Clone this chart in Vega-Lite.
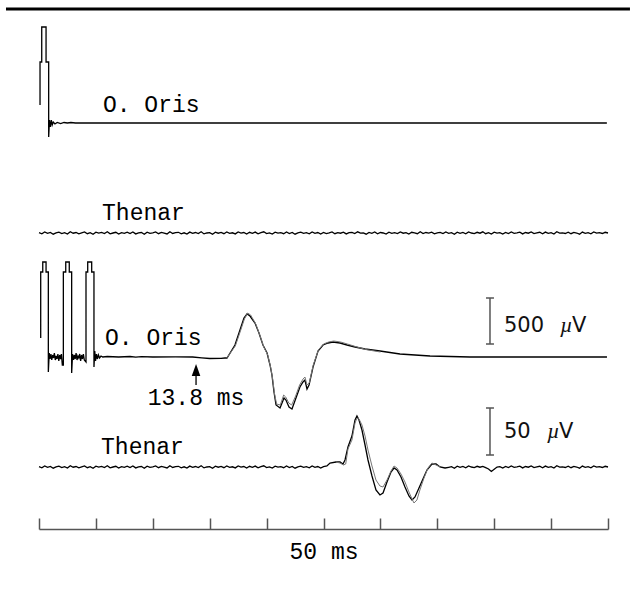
{
"$schema": "https://vega.github.io/schema/vega-lite/v6.json",
"width": 636, "height": 596, "padding": 0, "autosize": {"type": "none"},
"background": "white",
"config": {"view": {"stroke": null}},
"encoding": {
 "x": {"field": "t", "type": "quantitative", "scale": {"domain": [0, 50], "range": [39, 608], "nice": false, "zero": false},
  "axis": {"values": [0,5,10,15,20,25,30,35,40,45,50], "orient": "bottom", "offset": -67, "labels": false, "grid": false, "tickSize": -11, "tickColor": "#555", "tickWidth": 1.5, "domainColor": "#555", "domainWidth": 1.5, "title": "50 ms", "titleFont": "Liberation Mono", "titleFontSize": 23, "titleFontWeight": "normal", "titleColor": "#000", "titleY": 29, "titleBaseline": "alphabetic"}},
 "y": {"field": "y", "type": "quantitative", "scale": {"domain": [0, 596], "nice": false, "zero": false}, "axis": null}
},
"layer": [
 {"data": {"values": [{"t": -2.9, "t2": 51.93, "y": 587, "y2": 587}]},
  "mark": {"type": "rule", "color": "#000", "strokeWidth": 3},
  "encoding": {"x2": {"field": "t2"}, "y2": {"field": "y2"}}},
 {"data": {"values": [
  {"s":"oo1","t":0.09,"y":491},{"s":"oo1","t":0.09,"y":534},{"s":"oo1","t":0.24,"y":534},{"s":"oo1","t":0.24,"y":569},{"s":"oo1","t":0.62,"y":569},{"s":"oo1","t":0.62,"y":534},{"s":"oo1","t":0.85,"y":534},{"s":"oo1","t":0.85,"y":459},{"s":"oo1","t":0.92,"y":476},{"s":"oo1","t":1.0,"y":469},{"s":"oo1","t":1.08,"y":476},{"s":"oo1","t":1.16,"y":471},{"s":"oo1","t":1.25,"y":474},{"s":"oo1","t":1.4,"y":472},{"s":"oo1","t":1.6,"y":473.5},{"s":"oo1","t":1.9,"y":472.5},{"s":"oo1","t":2.2,"y":473.5},{"s":"oo1","t":2.5,"y":473},{"s":"oo1","t":2.8,"y":473.5},{"s":"oo1","t":3.2,"y":473},{"s":"oo1","t":49.9,"y":473},

  {"s":"th1","t":0,"y":363.3},{"s":"th1","t":0.25,"y":362.2},{"s":"th1","t":0.5,"y":364.1},{"s":"th1","t":0.75,"y":362.6},{"s":"th1","t":1,"y":363.6},{"s":"th1","t":1.25,"y":361.8},{"s":"th1","t":1.5,"y":363.2},{"s":"th1","t":1.75,"y":363.9},{"s":"th1","t":2,"y":362.4},{"s":"th1","t":2.25,"y":363.4},{"s":"th1","t":2.5,"y":362},{"s":"th1","t":2.75,"y":364.3},{"s":"th1","t":3,"y":362.8},{"s":"th1","t":3.25,"y":363.5},{"s":"th1","t":3.5,"y":362.1},{"s":"th1","t":3.75,"y":363.1},{"s":"th1","t":4,"y":364},{"s":"th1","t":4.25,"y":362.3},{"s":"th1","t":4.5,"y":363.3},{"s":"th1","t":4.75,"y":361.7},{"s":"th1","t":5,"y":363.8},{"s":"th1","t":5.25,"y":362.9},{"s":"th1","t":5.5,"y":363.6},{"s":"th1","t":5.75,"y":362.5},{"s":"th1","t":6,"y":364.2},{"s":"th1","t":6.25,"y":362.2},{"s":"th1","t":6.5,"y":363},{"s":"th1","t":6.75,"y":363.7},{"s":"th1","t":7,"y":361.9},{"s":"th1","t":7.25,"y":363.4},{"s":"th1","t":7.5,"y":362.7},{"s":"th1","t":7.75,"y":363.9},{"s":"th1","t":8,"y":362.4},{"s":"th1","t":8.25,"y":364.1},{"s":"th1","t":8.5,"y":362.1},{"s":"th1","t":8.75,"y":363.2},{"s":"th1","t":9,"y":363.5},{"s":"th1","t":9.25,"y":361.8},{"s":"th1","t":9.5,"y":363.8},{"s":"th1","t":9.75,"y":362.6},{"s":"th1","t":10,"y":363.1},{"s":"th1","t":10.25,"y":364},{"s":"th1","t":10.5,"y":362.3},{"s":"th1","t":10.75,"y":363.6},{"s":"th1","t":11,"y":362.8},{"s":"th1","t":11.25,"y":362},{"s":"th1","t":11.5,"y":364.3},{"s":"th1","t":11.75,"y":362.5},{"s":"th1","t":12,"y":363.3},{"s":"th1","t":12.25,"y":363.7},{"s":"th1","t":12.5,"y":362.2},{"s":"th1","t":12.75,"y":363.2},{"s":"th1","t":13,"y":361.9},{"s":"th1","t":13.25,"y":363.9},{"s":"th1","t":13.5,"y":362.7},{"s":"th1","t":13.75,"y":363.5},{"s":"th1","t":14,"y":362.4},{"s":"th1","t":14.25,"y":364.2},{"s":"th1","t":14.5,"y":362.1},{"s":"th1","t":14.75,"y":363},{"s":"th1","t":15,"y":363.4},{"s":"th1","t":15.25,"y":361.7},{"s":"th1","t":15.5,"y":363.8},{"s":"th1","t":15.75,"y":362.8},{"s":"th1","t":16,"y":363.6},{"s":"th1","t":16.25,"y":362.3},{"s":"th1","t":16.5,"y":364},{"s":"th1","t":16.75,"y":362.6},{"s":"th1","t":17,"y":363.2},{"s":"th1","t":17.25,"y":362.1},{"s":"th1","t":17.5,"y":364.1},{"s":"th1","t":17.75,"y":362.9},{"s":"th1","t":18,"y":363.5},{"s":"th1","t":18.25,"y":362},{"s":"th1","t":18.5,"y":363.7},{"s":"th1","t":18.75,"y":362.7},{"s":"th1","t":19,"y":363.9},{"s":"th1","t":19.25,"y":362.2},{"s":"th1","t":19.5,"y":363.3},{"s":"th1","t":19.75,"y":364.2},{"s":"th1","t":20,"y":362.4},{"s":"th1","t":20.25,"y":363.1},{"s":"th1","t":20.5,"y":361.9},{"s":"th1","t":20.75,"y":363.8},{"s":"th1","t":21,"y":362.8},{"s":"th1","t":21.25,"y":363.4},{"s":"th1","t":21.5,"y":362.3},{"s":"th1","t":21.75,"y":364},{"s":"th1","t":22,"y":362.5},{"s":"th1","t":22.25,"y":363.6},{"s":"th1","t":22.5,"y":361.8},{"s":"th1","t":22.75,"y":363.2},{"s":"th1","t":23,"y":363.9},{"s":"th1","t":23.25,"y":362.6},{"s":"th1","t":23.5,"y":363.3},{"s":"th1","t":23.75,"y":362.2},{"s":"th1","t":24,"y":364.1},{"s":"th1","t":24.25,"y":362.7},{"s":"th1","t":24.5,"y":363.5},{"s":"th1","t":24.75,"y":362},{"s":"th1","t":25,"y":363.6},{"s":"th1","t":25.25,"y":362.4},{"s":"th1","t":25.5,"y":363.1},{"s":"th1","t":25.75,"y":364},{"s":"th1","t":26,"y":362.3},{"s":"th1","t":26.25,"y":363.4},{"s":"th1","t":26.5,"y":362.8},{"s":"th1","t":26.75,"y":363.9},{"s":"th1","t":27,"y":362.1},{"s":"th1","t":27.25,"y":363.3},{"s":"th1","t":27.5,"y":363.7},{"s":"th1","t":27.75,"y":362.5},{"s":"th1","t":28,"y":364.2},{"s":"th1","t":28.25,"y":362.9},{"s":"th1","t":28.5,"y":363.2},{"s":"th1","t":28.75,"y":361.8},{"s":"th1","t":29,"y":363.6},{"s":"th1","t":29.25,"y":362.7},{"s":"th1","t":29.5,"y":364},{"s":"th1","t":29.75,"y":362.2},{"s":"th1","t":30,"y":363.5},{"s":"th1","t":30.25,"y":363},{"s":"th1","t":30.5,"y":361.9},{"s":"th1","t":30.75,"y":363.8},{"s":"th1","t":31,"y":362.6},{"s":"th1","t":31.25,"y":363.3},{"s":"th1","t":31.5,"y":362.4},{"s":"th1","t":31.75,"y":364.1},{"s":"th1","t":32,"y":362.8},{"s":"th1","t":32.25,"y":363.4},{"s":"th1","t":32.5,"y":362},{"s":"th1","t":32.75,"y":363.7},{"s":"th1","t":33,"y":363.1},{"s":"th1","t":33.25,"y":362.3},{"s":"th1","t":33.5,"y":364.3},{"s":"th1","t":33.75,"y":362.5},{"s":"th1","t":34,"y":363.5},{"s":"th1","t":34.25,"y":362.9},{"s":"th1","t":34.5,"y":363.9},{"s":"th1","t":34.75,"y":362.1},{"s":"th1","t":35,"y":363.2},{"s":"th1","t":35.25,"y":363.6},{"s":"th1","t":35.5,"y":362.4},{"s":"th1","t":35.75,"y":364},{"s":"th1","t":36,"y":362.7},{"s":"th1","t":36.25,"y":363.3},{"s":"th1","t":36.5,"y":361.8},{"s":"th1","t":36.75,"y":363.8},{"s":"th1","t":37,"y":362.6},{"s":"th1","t":37.25,"y":363.5},{"s":"th1","t":37.5,"y":362.2},{"s":"th1","t":37.75,"y":364.1},{"s":"th1","t":38,"y":363},{"s":"th1","t":38.25,"y":362.4},{"s":"th1","t":38.5,"y":363.7},{"s":"th1","t":38.75,"y":362.8},{"s":"th1","t":39,"y":364.2},{"s":"th1","t":39.25,"y":362.3},{"s":"th1","t":39.5,"y":363.4},{"s":"th1","t":39.75,"y":362},{"s":"th1","t":40,"y":363.9},{"s":"th1","t":40.25,"y":362.9},{"s":"th1","t":40.5,"y":363.3},{"s":"th1","t":40.75,"y":361.9},{"s":"th1","t":41,"y":363.6},{"s":"th1","t":41.25,"y":362.5},{"s":"th1","t":41.5,"y":364},{"s":"th1","t":41.75,"y":362.7},{"s":"th1","t":42,"y":363.2},{"s":"th1","t":42.25,"y":363.8},{"s":"th1","t":42.5,"y":362.1},{"s":"th1","t":42.75,"y":363.5},{"s":"th1","t":43,"y":362.8},{"s":"th1","t":43.25,"y":364.1},{"s":"th1","t":43.5,"y":362.4},{"s":"th1","t":43.75,"y":363.1},{"s":"th1","t":44,"y":363.7},{"s":"th1","t":44.25,"y":362.2},{"s":"th1","t":44.5,"y":363.9},{"s":"th1","t":44.75,"y":362.6},{"s":"th1","t":45,"y":363.4},{"s":"th1","t":45.25,"y":362},{"s":"th1","t":45.5,"y":364.3},{"s":"th1","t":45.75,"y":362.9},{"s":"th1","t":46,"y":363.2},{"s":"th1","t":46.25,"y":362.5},{"s":"th1","t":46.5,"y":363.8},{"s":"th1","t":46.75,"y":362.3},{"s":"th1","t":47,"y":363.6},{"s":"th1","t":47.25,"y":363},{"s":"th1","t":47.5,"y":361.8},{"s":"th1","t":47.75,"y":363.9},{"s":"th1","t":48,"y":362.7},{"s":"th1","t":48.25,"y":363.4},{"s":"th1","t":48.5,"y":362.2},{"s":"th1","t":48.75,"y":364},{"s":"th1","t":49,"y":362.8},{"s":"th1","t":49.25,"y":363.3},{"s":"th1","t":49.5,"y":362.5},{"s":"th1","t":49.75,"y":363.7},{"s":"th1","t":50,"y":363},

  {"s":"oo2","t":0.15,"y":258},{"s":"oo2","t":0.15,"y":324},{"s":"oo2","t":0.33,"y":324},{"s":"oo2","t":0.33,"y":334},{"s":"oo2","t":0.62,"y":334},{"s":"oo2","t":0.62,"y":324},{"s":"oo2","t":0.82,"y":324},{"s":"oo2","t":0.82,"y":224},{"s":"oo2","t":0.9,"y":243},{"s":"oo2","t":0.97,"y":237},{"s":"oo2","t":1.05,"y":242},{"s":"oo2","t":1.12,"y":236},{"s":"oo2","t":1.2,"y":241},{"s":"oo2","t":1.28,"y":238},{"s":"oo2","t":1.35,"y":243},{"s":"oo2","t":1.43,"y":236},{"s":"oo2","t":1.5,"y":240},{"s":"oo2","t":1.58,"y":237},{"s":"oo2","t":1.66,"y":242},{"s":"oo2","t":1.74,"y":235},{"s":"oo2","t":1.82,"y":241},{"s":"oo2","t":1.9,"y":237},{"s":"oo2","t":1.97,"y":242},{"s":"oo2","t":2.05,"y":231},{"s":"oo2","t":2.14,"y":231},{"s":"oo2","t":2.14,"y":324},{"s":"oo2","t":2.35,"y":324},{"s":"oo2","t":2.35,"y":334},{"s":"oo2","t":2.66,"y":334},{"s":"oo2","t":2.66,"y":324},{"s":"oo2","t":2.87,"y":324},{"s":"oo2","t":2.87,"y":223},{"s":"oo2","t":2.95,"y":242},{"s":"oo2","t":3.03,"y":236},{"s":"oo2","t":3.1,"y":241},{"s":"oo2","t":3.18,"y":237},{"s":"oo2","t":3.26,"y":243},{"s":"oo2","t":3.34,"y":236},{"s":"oo2","t":3.42,"y":240},{"s":"oo2","t":3.5,"y":238},{"s":"oo2","t":3.58,"y":242},{"s":"oo2","t":3.66,"y":235},{"s":"oo2","t":3.74,"y":241},{"s":"oo2","t":3.82,"y":237},{"s":"oo2","t":3.9,"y":242},{"s":"oo2","t":3.98,"y":236},{"s":"oo2","t":4.13,"y":234},{"s":"oo2","t":4.13,"y":324},{"s":"oo2","t":4.28,"y":324},{"s":"oo2","t":4.28,"y":334},{"s":"oo2","t":4.63,"y":334},{"s":"oo2","t":4.63,"y":324},{"s":"oo2","t":4.83,"y":324},{"s":"oo2","t":4.83,"y":229},{"s":"oo2","t":4.9,"y":245},{"s":"oo2","t":4.97,"y":235},{"s":"oo2","t":5.05,"y":242},{"s":"oo2","t":5.13,"y":237},{"s":"oo2","t":5.22,"y":241},{"s":"oo2","t":5.32,"y":238},{"s":"oo2","t":5.45,"y":240},{"s":"oo2","t":5.6,"y":239},{"s":"oo2","t":6,"y":239.5},{"s":"oo2","t":7,"y":239},{"s":"oo2","t":8,"y":239.5},{"s":"oo2","t":8.5,"y":238.8},{"s":"oo2","t":9,"y":239.3},{"s":"oo2","t":10,"y":239},{"s":"oo2","t":12,"y":239.2},{"s":"oo2","t":13.5,"y":239},{"s":"oo2","t":14.3,"y":238.2},{"s":"oo2","t":15,"y":237.5},{"s":"oo2","t":16,"y":237.6},{"s":"oo2","t":16.34,"y":238},{"s":"oo2","t":16.52,"y":238},{"s":"oo2","t":17.22,"y":251},{"s":"oo2","t":17.66,"y":266},{"s":"oo2","t":18.01,"y":278},{"s":"oo2","t":18.28,"y":282},{"s":"oo2","t":18.54,"y":280},{"s":"oo2","t":18.98,"y":273},{"s":"oo2","t":19.33,"y":263},{"s":"oo2","t":19.68,"y":251},{"s":"oo2","t":20.04,"y":243},{"s":"oo2","t":20.3,"y":231},{"s":"oo2","t":20.47,"y":221},{"s":"oo2","t":20.65,"y":204},{"s":"oo2","t":20.83,"y":191},{"s":"oo2","t":21.18,"y":188},{"s":"oo2","t":21.53,"y":198},{"s":"oo2","t":21.7,"y":196},{"s":"oo2","t":21.97,"y":189},{"s":"oo2","t":22.23,"y":187},{"s":"oo2","t":22.58,"y":198},{"s":"oo2","t":22.93,"y":209},{"s":"oo2","t":23.2,"y":214},{"s":"oo2","t":23.37,"y":216},{"s":"oo2","t":23.55,"y":207},{"s":"oo2","t":23.73,"y":211},{"s":"oo2","t":24.08,"y":229},{"s":"oo2","t":24.52,"y":245},{"s":"oo2","t":24.96,"y":251},{"s":"oo2","t":25.4,"y":253},{"s":"oo2","t":25.83,"y":254},{"s":"oo2","t":26.45,"y":253},{"s":"oo2","t":27.07,"y":251},{"s":"oo2","t":27.77,"y":249},{"s":"oo2","t":28.65,"y":247},{"s":"oo2","t":29.96,"y":245},{"s":"oo2","t":31.72,"y":242},{"s":"oo2","t":34.36,"y":240},{"s":"oo2","t":37.87,"y":239},{"s":"oo2","t":49.91,"y":239},

  {"s":"th2","t":0,"y":129.3},{"s":"th2","t":0.25,"y":128.2},{"s":"th2","t":0.5,"y":130.1},{"s":"th2","t":0.75,"y":128.6},{"s":"th2","t":1,"y":129.6},{"s":"th2","t":1.25,"y":127.8},{"s":"th2","t":1.5,"y":129.2},{"s":"th2","t":1.75,"y":129.9},{"s":"th2","t":2,"y":128.4},{"s":"th2","t":2.25,"y":129.4},{"s":"th2","t":2.5,"y":128},{"s":"th2","t":2.75,"y":130.3},{"s":"th2","t":3,"y":128.8},{"s":"th2","t":3.25,"y":129.5},{"s":"th2","t":3.5,"y":128.1},{"s":"th2","t":3.75,"y":129.1},{"s":"th2","t":4,"y":130},{"s":"th2","t":4.25,"y":128.3},{"s":"th2","t":4.5,"y":129.3},{"s":"th2","t":4.75,"y":127.7},{"s":"th2","t":5,"y":129.8},{"s":"th2","t":5.25,"y":128.9},{"s":"th2","t":5.5,"y":129.6},{"s":"th2","t":5.75,"y":128.5},{"s":"th2","t":6,"y":130.2},{"s":"th2","t":6.25,"y":128.2},{"s":"th2","t":6.5,"y":129},{"s":"th2","t":6.75,"y":129.7},{"s":"th2","t":7,"y":127.9},{"s":"th2","t":7.25,"y":129.4},{"s":"th2","t":7.5,"y":128.7},{"s":"th2","t":7.75,"y":129.9},{"s":"th2","t":8,"y":128.4},{"s":"th2","t":8.25,"y":130.1},{"s":"th2","t":8.5,"y":128.1},{"s":"th2","t":8.75,"y":129.2},{"s":"th2","t":9,"y":129.5},{"s":"th2","t":9.25,"y":127.8},{"s":"th2","t":9.5,"y":129.8},{"s":"th2","t":9.75,"y":128.6},{"s":"th2","t":10,"y":129.1},{"s":"th2","t":10.25,"y":130},{"s":"th2","t":10.5,"y":128.3},{"s":"th2","t":10.75,"y":129.6},{"s":"th2","t":11,"y":128.8},{"s":"th2","t":11.25,"y":128},{"s":"th2","t":11.5,"y":130.3},{"s":"th2","t":11.75,"y":128.5},{"s":"th2","t":12,"y":129.3},{"s":"th2","t":12.25,"y":129.7},{"s":"th2","t":12.5,"y":128.2},{"s":"th2","t":12.75,"y":129.2},{"s":"th2","t":13,"y":127.9},{"s":"th2","t":13.25,"y":129.9},{"s":"th2","t":13.5,"y":128.7},{"s":"th2","t":13.75,"y":129.5},{"s":"th2","t":14,"y":128.4},{"s":"th2","t":14.25,"y":130.2},{"s":"th2","t":14.5,"y":128.1},{"s":"th2","t":14.75,"y":129},{"s":"th2","t":15,"y":129.4},{"s":"th2","t":15.25,"y":127.7},{"s":"th2","t":15.5,"y":129.8},{"s":"th2","t":15.75,"y":128.8},{"s":"th2","t":16,"y":129.6},{"s":"th2","t":16.25,"y":128.3},{"s":"th2","t":16.5,"y":130},{"s":"th2","t":16.75,"y":128.6},{"s":"th2","t":17,"y":129.2},{"s":"th2","t":17.25,"y":128.1},{"s":"th2","t":17.5,"y":130.1},{"s":"th2","t":17.75,"y":128.9},{"s":"th2","t":18,"y":129.5},{"s":"th2","t":18.25,"y":128},{"s":"th2","t":18.5,"y":129.7},{"s":"th2","t":18.75,"y":128.7},{"s":"th2","t":19,"y":129.9},{"s":"th2","t":19.25,"y":128.2},{"s":"th2","t":19.5,"y":129.3},{"s":"th2","t":19.75,"y":130.2},{"s":"th2","t":20,"y":128.4},{"s":"th2","t":20.25,"y":129.1},{"s":"th2","t":20.5,"y":127.9},{"s":"th2","t":20.75,"y":129.8},{"s":"th2","t":21,"y":128.8},{"s":"th2","t":21.25,"y":129.4},{"s":"th2","t":21.5,"y":128.3},{"s":"th2","t":21.75,"y":130},{"s":"th2","t":22,"y":128.5},{"s":"th2","t":22.25,"y":129.6},{"s":"th2","t":22.5,"y":127.8},{"s":"th2","t":22.75,"y":129.2},{"s":"th2","t":23,"y":129.9},{"s":"th2","t":23.25,"y":128.6},{"s":"th2","t":23.5,"y":129.3},{"s":"th2","t":23.75,"y":128.2},{"s":"th2","t":24,"y":130.1},{"s":"th2","t":24.25,"y":128.7},{"s":"th2","t":24.5,"y":129.5},{"s":"th2","t":24.75,"y":128},{"s":"th2","t":25,"y":129.4},{"s":"th2","t":25.3,"y":130},{"s":"th2","t":25.57,"y":133},{"s":"th2","t":26.1,"y":134},{"s":"th2","t":26.45,"y":134},{"s":"th2","t":26.71,"y":132},{"s":"th2","t":26.89,"y":136},{"s":"th2","t":27.15,"y":149},{"s":"th2","t":27.5,"y":160},{"s":"th2","t":27.77,"y":176},{"s":"th2","t":27.94,"y":180},{"s":"th2","t":28.12,"y":176},{"s":"th2","t":28.38,"y":166},{"s":"th2","t":28.65,"y":151},{"s":"th2","t":28.91,"y":136},{"s":"th2","t":29.26,"y":120},{"s":"th2","t":29.61,"y":106},{"s":"th2","t":29.96,"y":101},{"s":"th2","t":30.23,"y":103},{"s":"th2","t":30.58,"y":114},{"s":"th2","t":30.93,"y":124},{"s":"th2","t":31.2,"y":128},{"s":"th2","t":31.46,"y":126},{"s":"th2","t":31.81,"y":119},{"s":"th2","t":32.16,"y":109},{"s":"th2","t":32.51,"y":100},{"s":"th2","t":32.78,"y":96},{"s":"th2","t":33.04,"y":99},{"s":"th2","t":33.39,"y":108},{"s":"th2","t":33.74,"y":117},{"s":"th2","t":34.09,"y":126},{"s":"th2","t":34.53,"y":132},{"s":"th2","t":34.89,"y":132},{"s":"th2","t":35.24,"y":129},{"s":"th2","t":35.68,"y":128},{"s":"th2","t":36,"y":128.7},{"s":"th2","t":36.25,"y":129.3},{"s":"th2","t":36.5,"y":127.8},{"s":"th2","t":36.75,"y":129.8},{"s":"th2","t":37,"y":128.6},{"s":"th2","t":37.25,"y":129.5},{"s":"th2","t":37.5,"y":128.2},{"s":"th2","t":37.75,"y":130.1},{"s":"th2","t":38,"y":129},{"s":"th2","t":38.25,"y":128.4},{"s":"th2","t":38.5,"y":129.7},{"s":"th2","t":38.75,"y":128.8},{"s":"th2","t":39,"y":129.6},{"s":"th2","t":39.25,"y":128.3},{"s":"th2","t":39.5,"y":127},{"s":"th2","t":39.75,"y":124.5},{"s":"th2","t":40,"y":126.8},{"s":"th2","t":40.25,"y":128.9},{"s":"th2","t":40.5,"y":129.3},{"s":"th2","t":40.75,"y":127.9},{"s":"th2","t":41,"y":129.6},{"s":"th2","t":41.25,"y":128.5},{"s":"th2","t":41.5,"y":130},{"s":"th2","t":41.75,"y":128.7},{"s":"th2","t":42,"y":129.2},{"s":"th2","t":42.25,"y":129.8},{"s":"th2","t":42.5,"y":128.1},{"s":"th2","t":42.75,"y":129.5},{"s":"th2","t":43,"y":128.8},{"s":"th2","t":43.25,"y":130.1},{"s":"th2","t":43.5,"y":128.4},{"s":"th2","t":43.75,"y":129.1},{"s":"th2","t":44,"y":129.7},{"s":"th2","t":44.25,"y":128.2},{"s":"th2","t":44.5,"y":129.9},{"s":"th2","t":44.75,"y":128.6},{"s":"th2","t":45,"y":129.4},{"s":"th2","t":45.25,"y":128},{"s":"th2","t":45.5,"y":130.3},{"s":"th2","t":45.75,"y":128.9},{"s":"th2","t":46,"y":129.2},{"s":"th2","t":46.25,"y":128.5},{"s":"th2","t":46.5,"y":129.8},{"s":"th2","t":46.75,"y":128.3},{"s":"th2","t":47,"y":129.6},{"s":"th2","t":47.25,"y":129},{"s":"th2","t":47.5,"y":127.8},{"s":"th2","t":47.75,"y":129.9},{"s":"th2","t":48,"y":128.7},{"s":"th2","t":48.25,"y":129.4},{"s":"th2","t":48.5,"y":128.2},{"s":"th2","t":48.75,"y":130},{"s":"th2","t":49,"y":128.8},{"s":"th2","t":49.25,"y":129.3},{"s":"th2","t":49.5,"y":128.5},{"s":"th2","t":49.75,"y":129.7},{"s":"th2","t":50,"y":129}
  ]},
  "mark": {"type": "line", "color": "#000", "strokeWidth": 1.3, "interpolate": "linear"},
  "encoding": {"detail": {"field": "s"}, "order": {"value": null}}},
 {"data": {"values": [
  {"s":"oo2g","t":16.5,"y":238},{"s":"oo2g","t":17.25,"y":250},{"s":"oo2g","t":17.7,"y":265},{"s":"oo2g","t":18.05,"y":277},{"s":"oo2g","t":18.33,"y":283},{"s":"oo2g","t":18.6,"y":281},{"s":"oo2g","t":19.05,"y":272},{"s":"oo2g","t":19.4,"y":261},{"s":"oo2g","t":19.75,"y":249},{"s":"oo2g","t":20.1,"y":241},{"s":"oo2g","t":20.35,"y":229},{"s":"oo2g","t":20.52,"y":218},{"s":"oo2g","t":20.7,"y":202},{"s":"oo2g","t":20.88,"y":192},{"s":"oo2g","t":21.2,"y":191},{"s":"oo2g","t":21.5,"y":201},{"s":"oo2g","t":21.68,"y":199},{"s":"oo2g","t":21.95,"y":193},{"s":"oo2g","t":22.2,"y":191},{"s":"oo2g","t":22.55,"y":200},{"s":"oo2g","t":22.9,"y":211},{"s":"oo2g","t":23.2,"y":217},{"s":"oo2g","t":23.37,"y":219},{"s":"oo2g","t":23.55,"y":211},{"s":"oo2g","t":23.75,"y":213},{"s":"oo2g","t":24.1,"y":231},{"s":"oo2g","t":24.55,"y":246},{"s":"oo2g","t":25,"y":252},{"s":"oo2g","t":25.45,"y":254},{"s":"oo2g","t":25.9,"y":255},{"s":"oo2g","t":26.5,"y":254},{"s":"oo2g","t":27.1,"y":252},{"s":"oo2g","t":27.8,"y":249.5},{"s":"oo2g","t":28.7,"y":246.5},{"s":"oo2g","t":30,"y":244},
  {"s":"th2g","t":26.1,"y":134},{"s":"th2g","t":26.45,"y":133},{"s":"th2g","t":26.75,"y":131},{"s":"th2g","t":26.95,"y":132},{"s":"th2g","t":27.15,"y":147},{"s":"th2g","t":27.5,"y":156},{"s":"th2g","t":27.77,"y":173},{"s":"th2g","t":27.94,"y":178},{"s":"th2g","t":28.12,"y":177},{"s":"th2g","t":28.38,"y":171},{"s":"th2g","t":28.65,"y":160},{"s":"th2g","t":28.91,"y":146},{"s":"th2g","t":29.26,"y":130},{"s":"th2g","t":29.61,"y":116},{"s":"th2g","t":29.96,"y":110},{"s":"th2g","t":30.23,"y":109},{"s":"th2g","t":30.58,"y":116},{"s":"th2g","t":30.93,"y":125},{"s":"th2g","t":31.2,"y":130},{"s":"th2g","t":31.46,"y":128},{"s":"th2g","t":31.81,"y":122},{"s":"th2g","t":32.16,"y":114},{"s":"th2g","t":32.51,"y":104},{"s":"th2g","t":32.78,"y":97},{"s":"th2g","t":32.95,"y":93},{"s":"th2g","t":33.21,"y":96},{"s":"th2g","t":33.47,"y":106},{"s":"th2g","t":33.83,"y":118},{"s":"th2g","t":34.18,"y":128},{"s":"th2g","t":34.53,"y":133},{"s":"th2g","t":34.89,"y":131},{"s":"th2g","t":35.24,"y":129}
  ]},
  "mark": {"type": "line", "color": "#777", "strokeWidth": 1, "interpolate": "linear"},
  "encoding": {"detail": {"field": "s"}, "order": {"value": null}}},
 {"data": {"values": [
  {"t": 39.63, "t2": 39.63, "y": 252, "y2": 298},
  {"t": 39.28, "t2": 39.98, "y": 252, "y2": 252},
  {"t": 39.28, "t2": 39.98, "y": 298, "y2": 298},
  {"t": 39.63, "t2": 39.63, "y": 141, "y2": 188},
  {"t": 39.28, "t2": 39.98, "y": 141, "y2": 141},
  {"t": 39.28, "t2": 39.98, "y": 188, "y2": 188}
  ]},
  "mark": {"type": "rule", "color": "#555", "strokeWidth": 1.5},
  "encoding": {"x2": {"field": "t2"}, "y2": {"field": "y2"}}},
 {"data": {"values": [{"t": 13.8, "t2": 13.8, "y": 211, "y2": 222}]},
  "mark": {"type": "rule", "color": "#000", "strokeWidth": 1.3},
  "encoding": {"x2": {"field": "t2"}, "y2": {"field": "y2"}}},
 {"data": {"values": [{"t": 13.8, "y": 226}]},
  "mark": {"type": "point", "shape": "M0,-1L0.7,1L-0.7,1Z", "filled": true, "color": "#000", "size": 150, "opacity": 1, "strokeWidth": 0},
  "encoding": {}},
 {"data": {"values": [
  {"t": 5.62, "y": 484, "label": "O. Oris"},
  {"t": 5.54, "y": 376, "label": "Thenar"},
  {"t": 5.8, "y": 251, "label": "O. Oris"},
  {"t": 5.45, "y": 142, "label": "Thenar"}
  ]},
  "mark": {"type": "text", "font": "Liberation Mono", "fontSize": 23, "align": "left", "baseline": "alphabetic", "color": "#000"},
  "encoding": {"text": {"field": "label"}}},
 {"data": {"values": [{"t": 13.8, "y": 191, "label": "13.8 ms"}]},
  "mark": {"type": "text", "font": "Liberation Mono", "fontSize": 23, "align": "center", "baseline": "alphabetic", "color": "#000"},
  "encoding": {"text": {"field": "label"}}},
 {"data": {"values": [
  {"t": 40.86, "y": 264, "label": "500"},
  {"t": 46.84, "y": 264, "label": "V"},
  {"t": 40.86, "y": 158, "label": "50"},
  {"t": 45.7, "y": 158, "label": "V"}
  ]},
  "mark": {"type": "text", "font": "DejaVu Sans", "fontSize": 21, "align": "left", "baseline": "alphabetic", "color": "#111"},
  "encoding": {"text": {"field": "label"}}},
 {"data": {"values": [
  {"t": 45.78, "y": 264, "label": "µ"},
  {"t": 44.64, "y": 158, "label": "µ"}
  ]},
  "mark": {"type": "text", "font": "Liberation Serif", "fontStyle": "italic", "fontSize": 22, "align": "left", "baseline": "alphabetic", "color": "#111"},
  "encoding": {"text": {"field": "label"}}}
]
}
